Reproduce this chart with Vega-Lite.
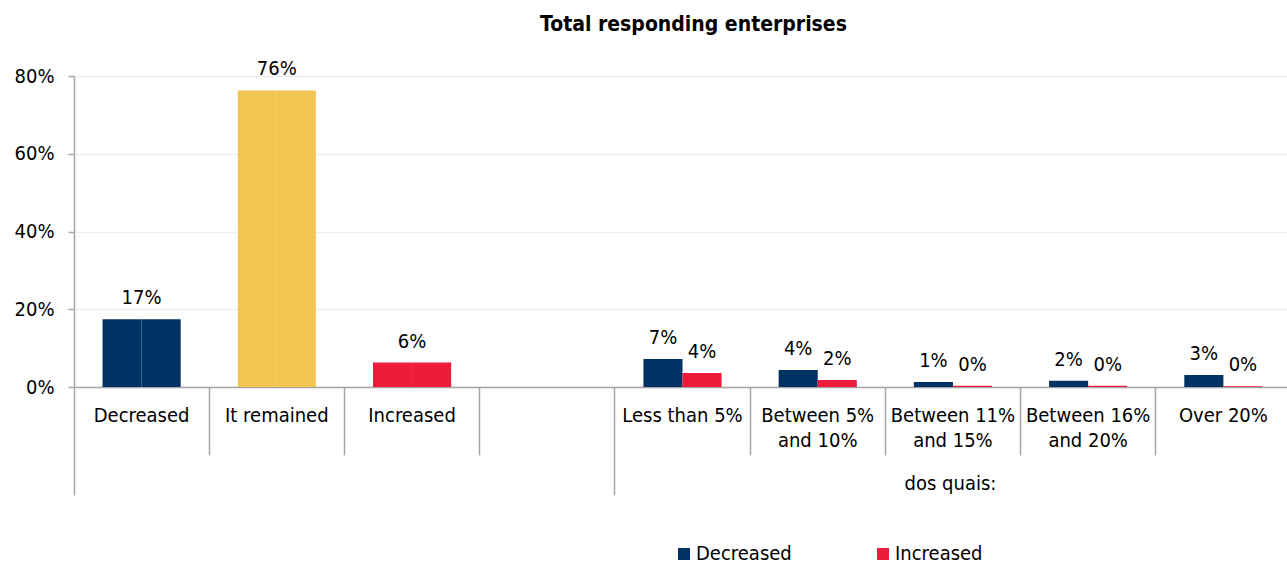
{
  "$schema": "https://vega.github.io/schema/vega-lite/v6.json",
  "width": 1217,
  "height": 311,
  "autosize": "none",
  "padding": {"left": 74, "top": 76, "right": -4, "bottom": 180},
  "background": "white",
  "title": {
    "text": "Total responding enterprises",
    "fontSize": 21,
    "fontWeight": "bold",
    "anchor": "middle",
    "dx": 11,
    "offset": 24,
    "color": "#000000"
  },
  "config": {
    "view": {"stroke": null},
    "font": "DejaVu Sans Condensed, DejaVu Sans"
  },
  "data": {
    "values": [
      {"category": "Decreased", "series": "Decreased", "cls": "Decreased", "part": "total", "value": 0.174},
      {"category": "Decreased", "series": "Increased", "cls": "Decreased", "part": "total", "value": 0.174},
      {"category": "It remained", "series": "Decreased", "cls": "It remained", "part": "total", "value": 0.763},
      {"category": "It remained", "series": "Increased", "cls": "It remained", "part": "total", "value": 0.763},
      {"category": "Increased", "series": "Decreased", "cls": "Increased", "part": "total", "value": 0.063},
      {"category": "Increased", "series": "Increased", "cls": "Increased", "part": "total", "value": 0.063},
      {"category": "Less than 5%", "series": "Decreased", "cls": "Decreased", "part": "breakdown", "value": 0.072},
      {"category": "Less than 5%", "series": "Increased", "cls": "Increased", "part": "breakdown", "value": 0.036},
      {"category": "Between 5% and 10%", "series": "Decreased", "cls": "Decreased", "part": "breakdown", "value": 0.044},
      {"category": "Between 5% and 10%", "series": "Increased", "cls": "Increased", "part": "breakdown", "value": 0.018},
      {"category": "Between 11% and 15%", "series": "Decreased", "cls": "Decreased", "part": "breakdown", "value": 0.013},
      {"category": "Between 11% and 15%", "series": "Increased", "cls": "Increased", "part": "breakdown", "value": 0.003},
      {"category": "Between 16% and 20%", "series": "Decreased", "cls": "Decreased", "part": "breakdown", "value": 0.016},
      {"category": "Between 16% and 20%", "series": "Increased", "cls": "Increased", "part": "breakdown", "value": 0.003},
      {"category": "Over 20%", "series": "Decreased", "cls": "Decreased", "part": "breakdown", "value": 0.031},
      {"category": "Over 20%", "series": "Increased", "cls": "Increased", "part": "breakdown", "value": 0.002}
    ]
  },
  "encoding": {
    "x": {
      "field": "category",
      "type": "nominal",
      "sort": null,
      "scale": {
        "domain": ["Decreased", "It remained", "Increased", "(blank)", "Less than 5%", "Between 5% and 10%", "Between 11% and 15%", "Between 16% and 20%", "Over 20%"],
        "paddingInner": 0,
        "paddingOuter": 0
      },
      "title": "dos quais:",
      "axis": {
        "bandPosition": 0,
        "labelAngle": 0,
        "labelExpr": "datum.value == '(blank)' ? '' : (indexof(datum.value, ' and ') > 0 ? [slice(datum.value, 0, indexof(datum.value, ' and ')), slice(datum.value, indexof(datum.value, ' and ') + 1)] : datum.value)",
        "labelFontSize": 20,
        "labelColor": "#000000",
        "labelLineHeight": 25,
        "labelBaseline": "top",
        "labelOverlap": false,
        "labelBound": false,
        "labelFlush": false,
        "tickSize": {"condition": {"test": "datum.value == 'Decreased' || datum.value == 'Less than 5%'", "value": 108}, "value": 68},
        "labelPadding": {"condition": {"test": "datum.value == 'Decreased' || datum.value == 'Less than 5%'", "value": -90}, "value": -50},
        "tickColor": "#a6a6a6",
        "tickWidth": 1.5,
        "domainColor": "#a6a6a6",
        "domainWidth": 1.5,
        "titleX": 876,
        "titleY": 96,
        "titleFontSize": 20,
        "titleFontWeight": "normal",
        "titleColor": "#000000",
        "titleBaseline": "middle",
        "titleAlign": "center"
      }
    },
    "y": {
      "field": "value",
      "type": "quantitative",
      "scale": {"domain": [0, 0.8], "nice": false},
      "axis": {
        "title": null,
        "values": [0, 0.2, 0.4, 0.6, 0.8],
        "format": ".0%",
        "labelFontSize": 20,
        "labelColor": "#000000",
        "labelPadding": 14,
        "tickSize": 6,
        "tickColor": "#a6a6a6",
        "tickWidth": 1.5,
        "domainColor": "#a6a6a6",
        "domainWidth": 1.5,
        "gridColor": "#ededed",
        "gridWidth": 1.5
      }
    }
  },
  "layer": [
    {
      "mark": {"type": "bar"},
      "encoding": {
        "xOffset": {"field": "series", "type": "nominal", "scale": {"domain": ["Decreased", "Increased"], "paddingInner": 0, "paddingOuter": 0.73}},
        "color": {
          "field": "cls",
          "type": "nominal",
          "scale": {"domain": ["Decreased", "Increased", "It remained"], "range": ["#003263", "#ee1c3b", "#f2c650"]},
          "legend": {
            "orient": "none",
            "legendX": 600,
            "legendY": 468,
            "direction": "horizontal",
            "title": null,
            "values": ["Decreased", "Increased"],
            "symbolType": "square",
            "symbolSize": 144,
            "symbolStrokeWidth": 0,
            "labelFontSize": 20,
            "labelColor": "#000000",
            "labelOffset": 2,
            "columnPadding": 81
          }
        }
      }
    },
    {
      "transform": [{"filter": "datum.part == 'total' && datum.series == 'Decreased'"}],
      "mark": {"type": "text", "dy": -15, "baseline": "alphabetic", "fontSize": 20, "color": "#000000"},
      "encoding": {"text": {"field": "value", "type": "quantitative", "format": ".0%"}}
    },
    {
      "transform": [{"filter": "datum.part == 'breakdown'"}],
      "mark": {"type": "text", "dy": -15, "baseline": "alphabetic", "fontSize": 20, "color": "#000000"},
      "encoding": {
        "xOffset": {"field": "series", "type": "nominal", "scale": {"domain": ["Decreased", "Increased"], "paddingInner": 0, "paddingOuter": 0.73}},
        "text": {"field": "value", "type": "quantitative", "format": ".0%"}
      }
    }
  ]
}
